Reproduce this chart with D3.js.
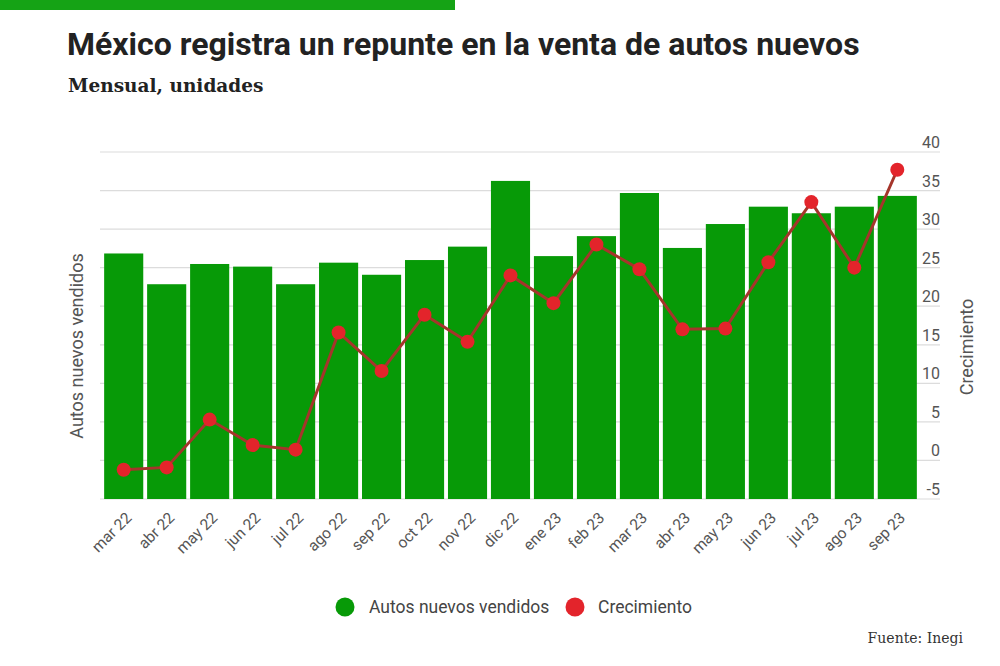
<!DOCTYPE html>
<html>
<head>
<meta charset="utf-8">
<script src="https://cdn.jsdelivr.net/npm/d3@7"></script>
<style>
  body { margin: 0; background: #fff; }
  svg { display: block; font-family: Roboto, "Noto Sans", sans-serif; }
</style>
</head>
<body>
<svg id="chart" width="1000" height="666"></svg>
<script>
var meses = ["mar 22", "abr 22", "may 22", "jun 22", "jul 22", "ago 22", "sep 22", "oct 22", "nov 22", "dic 22",
             "ene 23", "feb 23", "mar 23", "abr 23", "may 23", "jun 23", "jul 23", "ago 23", "sep 23"];
var autosVendidos = [93400, 81700, 89400, 88400, 81700, 89900, 85300, 90900, 96000, 121000,
                     92400, 100000, 116400, 95500, 104600, 111200, 108700, 111200, 115300];
var crecimiento = [-1.2, -0.9, 5.3, 2.0, 1.4, 16.6, 11.6, 18.9, 15.4, 24.0,
                   20.4, 28.0, 24.8, 17.0, 17.1, 25.7, 33.5, 25.0, 37.7];
var ticksCrecimiento = [-5, 0, 5, 10, 15, 20, 25, 30, 35, 40];

var verde = "#079a07";
var rojo = "#e3242b";

var svg = d3.select("#chart");

// franja verde arriba
svg.append("rect")
    .attr("x", 0).attr("y", 0)
    .attr("width", 455).attr("height", 10)
    .attr("fill", "#15a315");

// titulo
svg.append("text")
    .attr("x", 67).attr("y", 55)
    .attr("font-size", 32)
    .attr("font-weight", 700)
    .attr("fill", "#222")
    .text("México registra un repunte en la venta de autos nuevos");

svg.append("text")
    .attr("x", 68).attr("y", 92)
    .attr("font-family", "'DejaVu Serif', serif")
    .attr("font-size", 18.5)
    .attr("font-weight", 700)
    .attr("fill", "#222")
    .text("Mensual, unidades");

var x = d3.scaleBand()
    .domain(meses)
    .range([102, 919])
    .paddingInner(0.09)
    .paddingOuter(0.05);

var yAutos = d3.scaleLinear().domain([0, 132000]).range([499, 152]);
var yCrec = d3.scaleLinear().domain([-5, 40]).range([499, 152]);

//grid + right axis
var grid = svg.append("g");
grid.selectAll("line")
    .data(ticksCrecimiento)
    .enter().append("line")
    .attr("x1", 100).attr("x2", 940)
    .attr("y1", function(d) { return yCrec(d); })
    .attr("y2", function(d) { return yCrec(d); })
    .attr("stroke", "#dcdcdc")
    .attr("stroke-width", 1.2);

grid.selectAll("text")
    .data(ticksCrecimiento)
    .enter().append("text")
    .attr("x", 940)
    .attr("y", function(d) { return yCrec(d) - 4; })
    .attr("text-anchor", "end")
    .attr("font-size", 16)
    .attr("fill", "#555")
    .text(function(d) { return d; });

// barras
svg.append("g").selectAll("rect")
    .data(autosVendidos)
    .enter().append("rect")
    .attr("x", function(d, i) { return x(meses[i]); })
    .attr("y", function(d) { return yAutos(d); })
    .attr("width", x.bandwidth())
    .attr("height", function(d) { return yAutos(0) - yAutos(d); })
    .attr("fill", verde);

// linea de crecimiento
var linea = d3.line()
    .x(function(d, i) { return x(meses[i]) + x.bandwidth() / 2; })
    .y(function(d) { return yCrec(d); });

svg.append("path")
    .datum(crecimiento)
    .attr("d", linea)
    .attr("fill", "none")
    .attr("stroke", "#a5352b")
    .attr("stroke-width", 3);

svg.append("g").selectAll("circle")
    .data(crecimiento)
    .enter().append("circle")
    .attr("cx", function(d, i) { return x(meses[i]) + x.bandwidth() / 2; })
    .attr("cy", function(d) { return yCrec(d); })
    .attr("r", 7)
    .attr("fill", rojo);

// etiquetas eje x
svg.append("g").selectAll("text")
    .data(meses)
    .enter().append("text")
    .attr("transform", function(d) {
      return "translate(" + (x(d) + x.bandwidth() / 2 + 5) + ",515) rotate(-45)";
    })
    .attr("text-anchor", "end")
    .attr("dy", "0.35em")
    .attr("font-size", 15.5)
    .attr("fill", "#555")
    .text(function(d) { return d; });

// titulos de ejes
svg.append("text")
    .attr("transform", "translate(83,346) rotate(-90)")
    .attr("text-anchor", "middle")
    .attr("font-size", 18)
    .attr("fill", "#555")
    .text("Autos nuevos vendidos");

svg.append("text")
    .attr("transform", "translate(973,347) rotate(-90)")
    .attr("text-anchor", "middle")
    .attr("font-size", 18)
    .attr("fill", "#555")
    .text("Crecimiento");

// leyenda
var leyenda = [
  { nombre: "Autos nuevos vendidos", color: verde, cx: 345, tx: 369 },
  { nombre: "Crecimiento", color: rojo, cx: 575, tx: 598 }
];
var lg = svg.append("g").selectAll("g")
    .data(leyenda)
    .enter().append("g");
lg.append("circle")
    .attr("cx", function(d) { return d.cx; })
    .attr("cy", 607)
    .attr("r", 9.5)
    .attr("fill", function(d) { return d.color; });
lg.append("text")
    .attr("x", function(d) { return d.tx; })
    .attr("y", 607)
    .attr("dy", "0.35em")
    .attr("font-size", 17.5)
    .attr("fill", "#444")
    .text(function(d) { return d.nombre; });

svg.append("text")
    .attr("x", 963).attr("y", 643)
    .attr("text-anchor", "end")
    .attr("font-family", "'DejaVu Serif', serif")
    .attr("font-size", 14)
    .attr("fill", "#333")
    .text("Fuente: Inegi");
</script>
</body>
</html>
